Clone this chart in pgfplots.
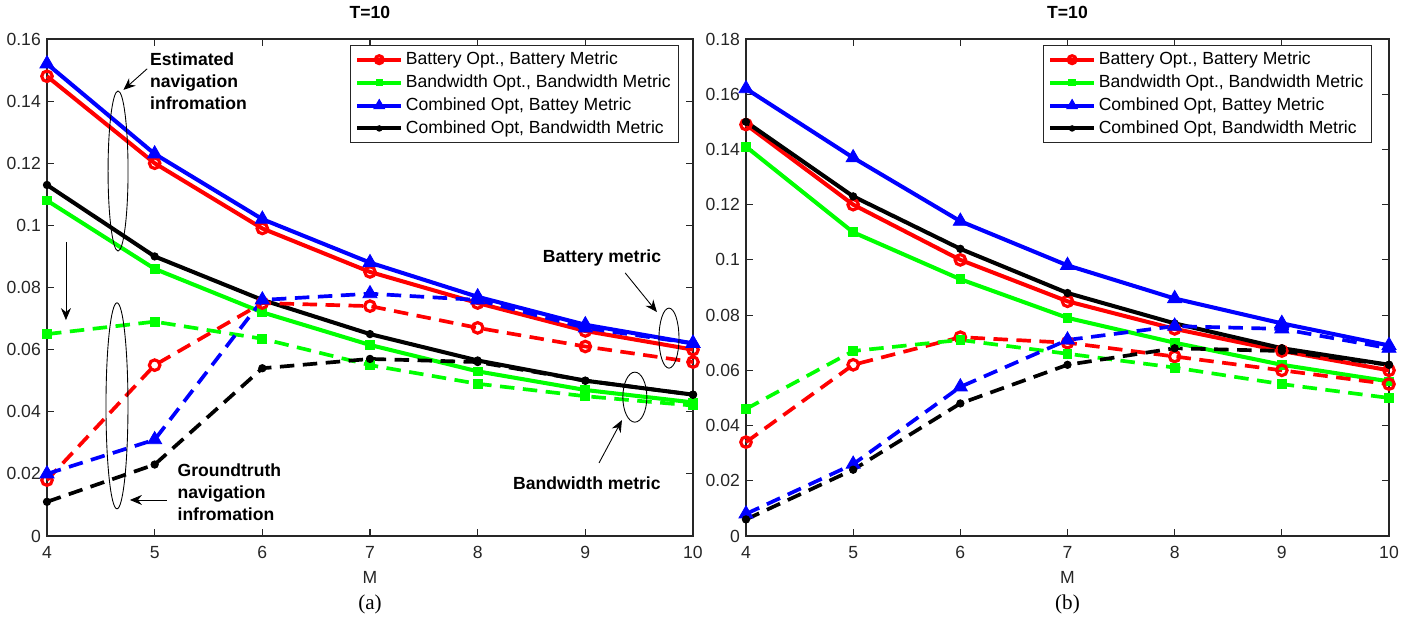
\documentclass[border=0pt]{standalone}
\usepackage{pgfplots}
\pgfplotsset{compat=1.18}
\usepackage{fontspec}
\setmainfont{Liberation Sans}
\newfontfamily\capfont{Liberation Serif}
\usetikzlibrary{arrows.meta}

\definecolor{axgray}{rgb}{0.15,0.15,0.15}

\pgfplotsset{
  panel/.style={
    scale only axis, height=99.4mm,
    xmin=4, xmax=10, ymin=0, xtick={4,5,6,7,8,9,10},
    clip=false,
    axis line style={draw=axgray, line width=0.6pt},
    tick style={draw=axgray, line width=0.6pt},
    major tick length=1.4mm,
    ticklabel style={font=\fontsize{10}{12}\selectfont, text=axgray},
    xticklabel style={yshift=-0.9mm},
    /pgf/number format/assume math mode=true,
    yticklabel style={/pgf/number format/fixed, /pgf/number format/precision=2},
    scaled y ticks=false,
    xlabel={M},
    xlabel style={at={(axis description cs:0.5,0)}, anchor=center, yshift=-8.2mm,
                  font=\fontsize{10}{12}\selectfont, text=axgray},
    title={T=10},
    title style={at={(axis description cs:0.5,1)}, anchor=base, yshift=2mm,
                 font=\fontsize{10}{12}\selectfont\bfseries},
    legend cell align=left,
    legend style={anchor=north east, draw=axgray, line width=0.6pt,
                  font=\fontsize{10}{12}\selectfont, row sep=0.3pt,
                  inner xsep=1mm, inner ysep=0.6mm,
                  nodes={inner xsep=1.5pt}},
    legend image code/.code={
      \draw[mark repeat=2, mark phase=2, mark size=0.75*\pgfplotmarksize]
        plot coordinates {(0mm,0mm) (4.4mm,0mm) (8.8mm,0mm)};},
  },
  sol/.style={line width=2.3pt},
  das/.style={line width=2.1pt, dash pattern=on 2.9mm off 1.7mm, forget plot},
  rser/.style={red, mark=o, mark size=3pt, mark options={solid, line width=1.8pt}},
  gser/.style={green, mark=square*, mark size=2.5pt, mark options={solid, line width=0.5pt}},
  bser/.style={blue, mark=triangle*, mark size=4.6pt, mark options={solid, line width=0.5pt}},
  kser/.style={black, mark=*, mark size=2.1pt, mark options={solid, line width=0.5pt}},
}
\tikzset{
  note/.style={font=\fontsize{10}{12.6}\selectfont\bfseries, align=left, inner sep=0pt},
  arr/.style={-{Stealth[length=2.4mm, width=2mm]}, line width=0.5pt},
}

\begin{document}
\begin{tikzpicture}
\path[use as bounding box] (-9.4mm,-16.4mm) rectangle (272.8mm,107.2mm);

% ---------- (a) ----------
\begin{axis}[panel, name=left, at={(0,0)}, anchor=south west, width=129.2mm,
  ymax=0.16, ytick={0,0.02,0.04,0.06,0.08,0.1,0.12,0.14,0.16},
  legend style={at={(0.978,0.988)}}]
  \addplot[sol, rser] coordinates {(4,0.148) (5,0.120) (6,0.099) (7,0.085) (8,0.075) (9,0.066) (10,0.060)};
  \addplot[sol, gser] coordinates {(4,0.108) (5,0.086) (6,0.072) (7,0.0615) (8,0.053) (9,0.047) (10,0.043)};
  \addplot[sol, bser] coordinates {(4,0.152) (5,0.123) (6,0.102) (7,0.088) (8,0.077) (9,0.068) (10,0.062)};
  \addplot[sol, kser] coordinates {(4,0.113) (5,0.090) (6,0.076) (7,0.065) (8,0.0565) (9,0.050) (10,0.0455)};
  \addplot[das, rser] coordinates {(4,0.018) (5,0.055) (6,0.075) (7,0.074) (8,0.067) (9,0.061) (10,0.056)};
  \addplot[das, gser] coordinates {(4,0.065) (5,0.069) (6,0.0635) (7,0.055) (8,0.049) (9,0.045) (10,0.042)};
  \addplot[das, bser] coordinates {(4,0.020) (5,0.031) (6,0.076) (7,0.078) (8,0.076) (9,0.067) (10,0.062)};
  \addplot[das, kser] coordinates {(4,0.011) (5,0.023) (6,0.054) (7,0.057) (8,0.056) (9,0.050) (10,0.0455)};
  \legend{{Battery Opt., Battery Metric}, {Bandwidth Opt., Bandwidth Metric},
          {Combined Opt, Battey Metric}, {Combined Opt, Bandwidth Metric}}

  % annotations
  \draw[line width=0.5pt] (axis cs:4.66,0.1175) ellipse [x radius=2mm, y radius=16mm];
  \draw[arr] (axis cs:4.93,0.1504) -- (axis cs:4.71,0.1436);
  \node[note, anchor=north west] at (axis cs:4.955,0.1558) {Estimated\\navigation\\infromation};
  \draw[arr] (axis cs:4.176,0.0947) -- (axis cs:4.176,0.0695);

  \draw[line width=0.5pt] (axis cs:4.65,0.0419) ellipse [x radius=2.2mm, y radius=20.6mm];
  \draw[arr] (axis cs:5.11,0.0116) -- (axis cs:4.77,0.0116);
  \node[note, anchor=north west] at (axis cs:5.21,0.0235) {Groundtruth\\navigation\\infromation};

  \draw[line width=0.5pt] (axis cs:9.777,0.0637) ellipse [x radius=2mm, y radius=6mm];
  \draw[arr] (axis cs:9.37,0.0847) -- (axis cs:9.665,0.0721);
  \node[note] at (axis cs:9.155,0.0895) {Battery metric};

  \draw[line width=0.5pt] (axis cs:9.46,0.0447) ellipse [x radius=2.4mm, y radius=5mm];
  \draw[arr] (axis cs:9.127,0.0235) -- (axis cs:9.34,0.0373);
  \node[note] at (axis cs:9.015,0.0171) {Bandwidth metric};

  \node[font=\capfont\fontsize{12}{14}\selectfont, yshift=-13.6mm] at (rel axis cs:0.5,0) {(a)};
\end{axis}

% ---------- (b) ----------
\begin{axis}[panel, name=right, at={(139.8mm,0)}, anchor=south west, width=128.6mm,
  ymax=0.18, ytick={0,0.02,0.04,0.06,0.08,0.1,0.12,0.14,0.16,0.18},
  legend style={at={(0.973,0.988)}}]
  \addplot[sol, rser] coordinates {(4,0.149) (5,0.120) (6,0.100) (7,0.085) (8,0.075) (9,0.067) (10,0.060)};
  \addplot[sol, gser] coordinates {(4,0.141) (5,0.110) (6,0.093) (7,0.079) (8,0.070) (9,0.062) (10,0.056)};
  \addplot[sol, bser] coordinates {(4,0.162) (5,0.137) (6,0.114) (7,0.098) (8,0.086) (9,0.077) (10,0.069)};
  \addplot[sol, kser] coordinates {(4,0.150) (5,0.123) (6,0.104) (7,0.088) (8,0.077) (9,0.068) (10,0.062)};
  \addplot[das, rser] coordinates {(4,0.034) (5,0.062) (6,0.072) (7,0.070) (8,0.065) (9,0.060) (10,0.055)};
  \addplot[das, gser] coordinates {(4,0.046) (5,0.067) (6,0.071) (7,0.066) (8,0.061) (9,0.055) (10,0.050)};
  \addplot[das, bser] coordinates {(4,0.008) (5,0.026) (6,0.054) (7,0.071) (8,0.076) (9,0.075) (10,0.068)};
  \addplot[das, kser] coordinates {(4,0.006) (5,0.024) (6,0.048) (7,0.062) (8,0.068) (9,0.067) (10,0.062)};
  \legend{{Battery Opt., Battery Metric}, {Bandwidth Opt., Bandwidth Metric},
          {Combined Opt, Battey Metric}, {Combined Opt, Bandwidth Metric}}

  \node[font=\capfont\fontsize{12}{14}\selectfont, yshift=-13.6mm] at (rel axis cs:0.5,0) {(b)};
\end{axis}
\end{tikzpicture}
\end{document}
